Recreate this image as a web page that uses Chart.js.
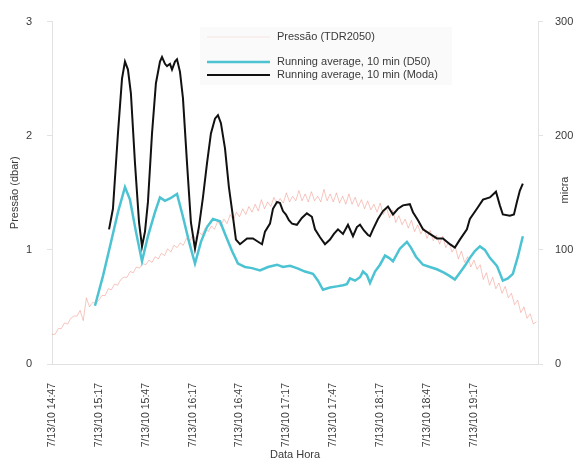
<!DOCTYPE html>
<html><head><meta charset="utf-8">
<style>
html,body{margin:0;padding:0;background:#fff;overflow:hidden;width:574px;height:459px}
#wrap{width:574px;height:466px;position:relative}
</style>
<script src="https://cdn.jsdelivr.net/npm/chart.js@4/dist/chart.umd.min.js"></script>
</head><body><div id="wrap"><canvas id="c" width="574" height="466"></canvas></div>
<script>
// minutes after 7/13/10 14:47
const tickMinutes = [0,30,60,90,120,150,180,210,240,270];
const tickLabels = ["7/13/10 14:47","7/13/10 15:17","7/13/10 15:47","7/13/10 16:17","7/13/10 16:47","7/13/10 17:17","7/13/10 17:47","7/13/10 18:17","7/13/10 18:47","7/13/10 19:17"];

const seriesNames = ["Pressão (TDR2050)","Running average, 10 min (D50)","Running average, 10 min (Moda)"];

// Pressão (dbar), left axis
const redTimes = [0,2,4,6,8,10,12,14,16,18,20,22,24,26,28,30,32,34,36,38,40,42,44,46,48,50,52,54,56,58,60,62,64,66,68,70,72,74,76,78,80,82,84,86,88,90,92,94,96,98,100,102,104,106,108,110,112,114,116,118,120,122,124,126,128,130,132,134,136,138,140,142,144,146,148,150,152,154,156,158,160,162,164,166,168,170,172,174,176,178,180,182,184,186,188,190,192,194,196,198,200,202,204,206,208,210,212,214,216,218,220,222,224,226,228,230,232,234,236,238,240,242,244,246,248,250,252,254,256,258,260,262,264,266,268,270,272,274,276,278,280,282,284,286,288,290,292,294,296,298,300,302,304,306,308,310];
const redValues = [0.26,0.26,0.31,0.31,0.36,0.35,0.40,0.42,0.42,0.47,
0.38,0.58,0.50,0.54,0.53,0.56,0.60,0.60,0.66,0.65,
0.70,0.69,0.74,0.76,0.76,0.81,0.80,0.85,0.84,0.88,
0.87,0.91,0.89,0.94,0.92,0.97,0.95,1.01,0.98,1.04,
1.02,1.06,1.04,1.10,1.07,1.13,1.10,1.16,1.13,1.19,
1.16,1.21,1.18,1.25,1.21,1.27,1.23,1.31,1.26,1.33,
1.29,1.36,1.31,1.38,1.33,1.40,1.34,1.44,1.36,1.42,
1.38,1.46,1.40,1.45,1.41,1.50,1.42,1.47,1.43,1.52,
1.43,1.49,1.42,1.51,1.43,1.47,1.42,1.53,1.43,1.49,
1.42,1.50,1.41,1.47,1.40,1.49,1.40,1.46,1.38,1.44,
1.36,1.43,1.35,1.40,1.33,1.41,1.31,1.37,1.28,1.35,
1.24,1.30,1.22,1.27,1.19,1.26,1.16,1.22,1.14,1.19,
1.10,1.17,1.08,1.13,1.05,1.12,1.02,1.07,0.98,1.03,
0.92,0.99,0.89,0.94,0.85,0.91,0.83,0.87,0.74,0.80,
0.69,0.76,0.66,0.71,0.62,0.68,0.58,0.62,0.52,0.56,
0.45,0.50,0.40,0.44,0.35,0.37];

// Running average D50 (micra), right axis
const d50Times = [27.5,32.6,37.1,42.2,46.7,49.9,53.7,57.6,61.4,65.9,69.1,72.3,75.5,80.0,83.8,87.7,91.5,95.3,99.2,103.0,107.5,111.3,115.2,119.0,123.5,128.0,133.1,138.2,144.0,147.8,152.3,156.7,161.9,167.0,170.2,173.4,177.9,182.3,186.2,188.7,190.7,193.9,197.1,199.0,201.5,203.5,206.7,209.9,213.1,215.6,218.2,222.6,227.1,229.7,232.9,237.4,241.8,246.3,250.8,254.6,257.8,261.0,264.2,267.4,270.6,273.8,277.0,280.2,284.7,288.5,291.7,294.9,298.1,301.3];
const d50Values = [51,77,103,133,155,144,116,90,112,133,146,143,145,149,129,107,88,107,120,127,125,112,99,88,85,84,82,85,87,85,86,84,81,79,73,65,67,68,69,70,75,73,76,81,78,71,81,87,95,93,90,101,107,102,94,87,85,83,80,77,74,80,86,93,99,103,100,93,86,73,75,79,94,112];

// Running average Moda (micra), right axis
const modaTimes = [36.5,39.0,42.2,44.8,46.7,48.6,50.5,53.1,55.7,57.6,59.5,61.4,64.0,66.5,69.1,70.4,72.3,73.6,75.5,76.8,78.7,80.0,81.9,83.8,86.4,88.9,91.5,94.0,96.6,99.2,101.7,104.3,106.2,108.1,110.7,113.2,115.8,117.7,120.3,124.8,128.6,133.1,134.4,136.3,139.5,141.4,144.0,145.9,147.8,149.7,151.6,153.6,156.7,159.9,163.1,166.3,168.3,171.5,174.7,177.9,180.4,183.0,186.2,189.4,192.6,195.1,197.1,199.6,202.2,203.5,205.4,208.6,211.8,215.0,218.2,221.4,224.6,229.0,231.0,234.2,237.4,241.8,246.3,250.2,254.6,257.8,261.0,265.5,267.4,271.9,275.8,280.2,284.1,286.6,288.5,293.0,295.6,297.5,299.4,301.3];
const modaValues = [118,136,202,250,265,258,237,176,124,103,116,142,202,246,265,269,263,261,263,258,265,267,256,233,176,124,101,120,146,176,202,215,218,211,189,155,129,109,105,110,110,106,105,116,123,136,142,141,134,131,126,123,122,128,132,129,118,111,105,109,114,118,114,122,112,120,122,117,113,112,118,127,134,138,131,136,139,140,133,126,118,114,110,110,105,102,109,118,127,136,144,146,151,139,131,130,131,142,152,158];

const leftTicks = [0,1,2,3];
const rightTicks = [0,100,200,300];

const FONT = "'Liberation Sans', Arial, sans-serif";
const TXT = '#3a3a3a';
const colors = ['rgba(238,128,116,0.45)', '#4cc3d3', '#111111'];

function zip(t, v){ return t.map((x,i)=>({x:x, y:v[i]})); }

const overlay = {
  id: 'overlay',
  afterDraw(chart){
    const ctx = chart.ctx;
    ctx.save();
    ctx.font = '11px ' + FONT;
    ctx.textBaseline = 'middle';
    ctx.textAlign = 'left';
    const rows = [37, 62, 75];
    const widths = [1, 2.5, 2];
    for (let i = 0; i < 3; i++){
      ctx.strokeStyle = i === 0 ? 'rgba(238,130,118,0.18)' : colors[i];
      ctx.lineWidth = widths[i];
      ctx.beginPath(); ctx.moveTo(207, rows[i]); ctx.lineTo(270, rows[i]); ctx.stroke();
      ctx.fillStyle = TXT;
      ctx.fillText(seriesNames[i], 277, rows[i]);
    }
    // right axis title
    ctx.translate(565, 190);
    ctx.rotate(-Math.PI/2);
    ctx.textAlign = 'center';
    ctx.fillText('micra', 0, 0);
    ctx.restore();
  },
  beforeDatasetsDraw(chart){
    const ctx = chart.ctx;
    ctx.save();
    ctx.fillStyle = 'rgba(248,248,248,0.7)';
    ctx.fillRect(200, 27, 252, 58);
    ctx.restore();
  }
};

new Chart(document.getElementById('c'), {
  type: 'line',
  data: {
    datasets: [
      { label: seriesNames[2], data: zip(modaTimes, modaValues), yAxisID: 'y2', borderColor: colors[2], borderWidth: 2, pointRadius: 0, tension: 0, order: 0 },
      { label: seriesNames[1], data: zip(d50Times, d50Values), yAxisID: 'y2', borderColor: colors[1], borderWidth: 2.5, pointRadius: 0, tension: 0, order: 1 },
      { label: seriesNames[0], data: zip(redTimes, redValues), yAxisID: 'y', borderColor: colors[0], borderWidth: 1, pointRadius: 0, tension: 0, order: 2 }
    ]
  },
  options: {
    responsive: false,
    animation: false,
    devicePixelRatio: 1,
    layout: { padding: { top: 17, left: 0, right: 0, bottom: 0 } },
    plugins: { legend: { display: false }, tooltip: { enabled: false } },
    scales: {
      x: {
        type: 'linear', position: 'bottom', min: 0, max: 311,
        afterBuildTicks: (ax) => { ax.ticks = tickMinutes.map(v => ({ value: v })); },
        afterFit: (ax) => { ax.height = 102; },
        ticks: {
          autoSkip: false, minRotation: 90, maxRotation: 90, padding: 19,
          color: TXT, font: { family: FONT, size: 10.5 },
          callback: (v) => { const i = tickMinutes.indexOf(v); return i >= 0 ? tickLabels[i] : ''; }
        },
        grid: { drawOnChartArea: false, drawTicks: false },
        border: { display: true, color: '#e2e2e2' },
        title: { display: true, text: 'Data Hora', color: TXT, font: { family: FONT, size: 11 }, padding: { top: 0, bottom: 4 } }
      },
      y: {
        position: 'left', min: 0, max: 3,
        afterBuildTicks: (ax) => { ax.ticks = leftTicks.map(v => ({ value: v })); },
        afterFit: (ax) => { ax.width = 52; },
        ticks: { color: TXT, font: { family: FONT, size: 11 }, padding: 15 },
        grid: { drawOnChartArea: false, drawTicks: true, tickLength: 5, tickColor: '#e2e2e2' },
        border: { display: true, color: '#e2e2e2' },
        title: { display: true, text: 'Pressão (dbar)', color: TXT, font: { family: FONT, size: 11 }, padding: { top: 8, bottom: 0 } }
      },
      y2: {
        position: 'right', min: 0, max: 300,
        afterBuildTicks: (ax) => { ax.ticks = rightTicks.map(v => ({ value: v })); },
        afterFit: (ax) => { ax.width = 36; },
        ticks: { color: TXT, font: { family: FONT, size: 11 }, padding: 12 },
        grid: { drawOnChartArea: false, drawTicks: true, tickLength: 5, tickColor: '#e2e2e2' },
        border: { display: true, color: '#e2e2e2' }
      }
    }
  },
  plugins: [overlay]
});
</script>
</body></html>
